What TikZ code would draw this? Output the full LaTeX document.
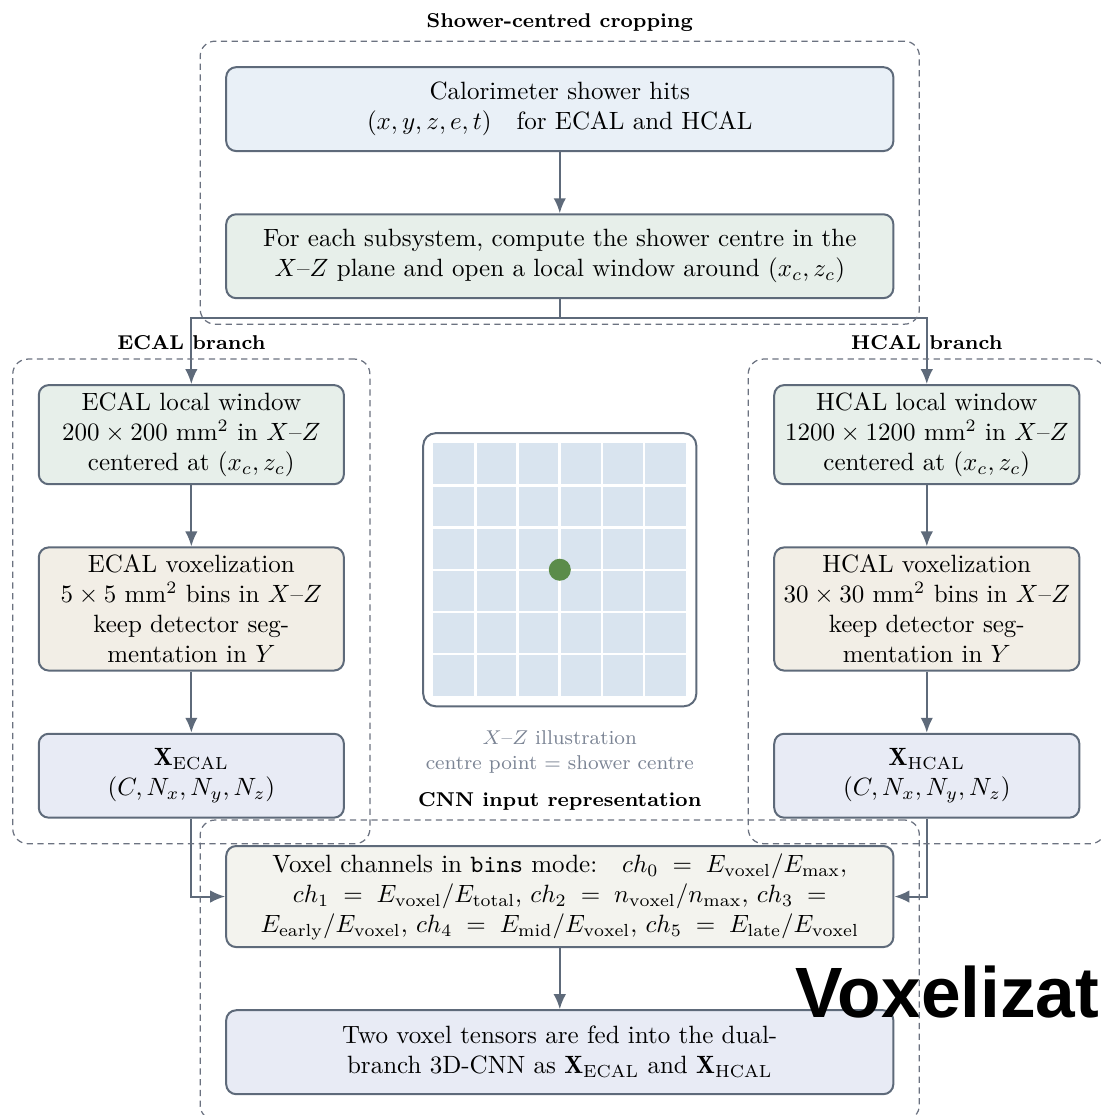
\documentclass[tikz,border=0pt]{standalone}
\usepackage{fontspec}
\usepackage{amsmath}
\newfontfamily\bannerfont{Liberation Sans}
\usetikzlibrary{arrows.meta,positioning,fit,calc}

\definecolor{edgecol}{HTML}{5E6A7A}
\definecolor{grpcol}{HTML}{6B7280}
\definecolor{hitsfill}{HTML}{E9F0F7}
\definecolor{winfill}{HTML}{E7EFEA}
\definecolor{voxfill}{HTML}{F2EEE6}
\definecolor{tensfill}{HTML}{E8EBF5}
\definecolor{chanfill}{HTML}{F3F3EE}
\definecolor{cellfill}{HTML}{D9E4EF}
\definecolor{dotgreen}{HTML}{5B8C4A}
\definecolor{capcol}{HTML}{7B8494}
\newcommand{\lblfont}{\fontsize{8pt}{10pt}\selectfont}

\begin{document}
\begin{tikzpicture}[
    node distance=0.86cm,
    box/.style={draw=edgecol, line width=0.8pt, rounded corners=4pt, align=center, inner ysep=3pt, minimum height=1.18cm},
    widebox/.style={box, minimum width=9.38cm},
    narrowbox/.style={box, minimum width=4.29cm},
    flow/.style={draw=edgecol, line width=0.8pt, -{Latex[length=6pt,width=5pt]}},
    grp/.style={draw=grpcol, line width=0.5pt, dash pattern=on 2.5pt off 1.8pt, rounded corners=6pt, inner sep=10pt},
    ttl/.style={font=\lblfont\bfseries, text=black}
]
\useasboundingbox (0,0) rectangle (15.479,-15.676);

\node [widebox, fill=hitsfill, anchor=north] (hits) at (7.87,-0.93) {Calorimeter shower hits\\ $(x,y,z,e,t)$\quad for ECAL and HCAL};
\node [widebox, fill=winfill, below=of hits] (centre) {For each subsystem, compute the shower centre in the\\ $X$--$Z$ plane and open a local window around $(x_c,z_c)$};

\node [narrowbox, fill=winfill, anchor=north] (ewin) at (2.69,-5.40) {ECAL local window\\ $200\times 200$ mm$^2$ in $X$--$Z$\\ centered at $(x_c,z_c)$};
\node [narrowbox, fill=voxfill, below=of ewin] (evox) {ECAL voxelization\\ $5\times 5$ mm$^2$ bins in $X$--$Z$\\ keep detector seg-\\mentation in $Y$};
\node [narrowbox, fill=tensfill, below=of evox] (etens) {$\mathbf{X}_{\mathrm{ECAL}}$\\ $(C,N_x,N_y,N_z)$};

\node [narrowbox, fill=winfill, anchor=north] (hwin) at (13.03,-5.40) {HCAL local window\\ $1200\times 1200$ mm$^2$ in $X$--$Z$\\ centered at $(x_c,z_c)$};
\node [narrowbox, fill=voxfill, below=of hwin] (hvox) {HCAL voxelization\\ $30\times 30$ mm$^2$ bins in $X$--$Z$\\ keep detector seg-\\mentation in $Y$};
\node [narrowbox, fill=tensfill, below=of hvox] (htens) {$\mathbf{X}_{\mathrm{HCAL}}$\\ $(C,N_x,N_y,N_z)$};

\node [draw=edgecol, line width=0.8pt, rounded corners=5pt, minimum size=3.84cm] (illus) at (7.87,-8.01) {};
\fill [cellfill] ($(illus.center)+(-1.78,-1.78)$) rectangle ($(illus.center)+(1.78,1.78)$);
\foreach \k in {1,...,5} {
    \draw [white, line width=1pt] ($(illus.center)+(-1.78+\k*0.593,-1.78)$) -- ++(0,3.56);
    \draw [white, line width=1pt] ($(illus.center)+(-1.78,-1.78+\k*0.593)$) -- ++(3.56,0);
}
\fill [dotgreen] (illus.center) circle (0.155);
\node [below=0.2cm of illus, font=\lblfont, text=capcol, align=center] (caption) {$X$--$Z$ illustration\\ centre point = shower centre};

\node [widebox, fill=chanfill, anchor=north] (chan) at (7.87,-11.88) {Voxel channels in \texttt{bins} mode:\quad $ch_0 \;=\; E_{\mathrm{voxel}}/E_{\max}$,\\ $ch_1 \;=\; E_{\mathrm{voxel}}/E_{\mathrm{total}}$, $ch_2 \;=\; n_{\mathrm{voxel}}/n_{\max}$, $ch_3 \;=$\\ $E_{\mathrm{early}}/E_{\mathrm{voxel}}$, $ch_4 \;=\; E_{\mathrm{mid}}/E_{\mathrm{voxel}}$, $ch_5 \;=\; E_{\mathrm{late}}/E_{\mathrm{voxel}}$};
\node [widebox, fill=tensfill, below=of chan] (cnn) {Two voxel tensors are fed into the dual-\\branch 3D-CNN as $\mathbf{X}_{\mathrm{ECAL}}$ and $\mathbf{X}_{\mathrm{HCAL}}$};

\draw [flow] (hits) -- (centre);
\draw [flow] (centre.south) -- ++(0,-0.26) -| (ewin.north);
\draw [flow] (centre.south) -- ++(0,-0.26) -| (hwin.north);
\draw [flow] (ewin) -- (evox);
\draw [flow] (evox) -- (etens);
\draw [flow] (hwin) -- (hvox);
\draw [flow] (hvox) -- (htens);
\draw [flow] (etens.south) |- (chan.west);
\draw [flow] (htens.south) |- (chan.east);
\draw [flow] (chan) -- (cnn);

\node [anchor=base west, font=\bannerfont\bfseries\fontsize{28.5pt}{34pt}\selectfont, inner sep=0pt] (banner) at (11.18,-14.31) {Voxelization};

\node [grp, fit=(hits)(centre), label={[ttl]above:Shower-centred cropping}] (gcrop) {};
\node [grp, fit=(ewin)(etens), label={[ttl]above:ECAL branch}] (gecal) {};
\node [grp, fit=(hwin)(htens), label={[ttl]above:HCAL branch}] (ghcal) {};
\node [grp, fit=(chan)(cnn), label={[ttl]above:CNN input representation}] (gcnn) {};

\end{tikzpicture}
\end{document}
